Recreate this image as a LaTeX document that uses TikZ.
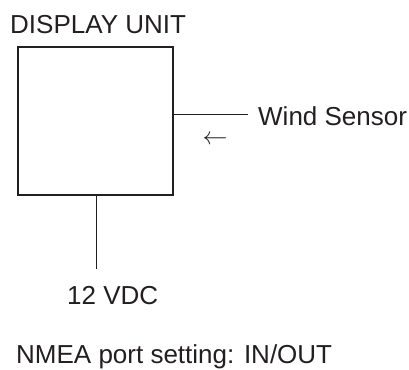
\documentclass[tikz,border=0pt]{standalone}
\usepackage{fontspec}
\setmainfont{Liberation Sans}
\usepackage{tikz}
\usetikzlibrary{positioning}
\definecolor{ink}{HTML}{231F20}

\begin{document}
\begin{tikzpicture}[
    x=1pt, y=1pt,
    lbl/.style={inner sep=0pt, text=ink, font=\fontsize{26}{31}\selectfont},
    unit/.style={draw=ink, line width=1.3pt, minimum width=155pt, minimum height=148pt, inner sep=0pt},
    wire/.style={draw=ink, line width=0.9pt}
  ]
  \useasboundingbox (0,0) rectangle (409,-369);
  \node[lbl, anchor=base west] (title) at (10,-34) {DISPLAY UNIT};
  \node[unit] (disp) at (95.5,-121) {};
  \coordinate (wsend) at (248,-114);
  \coordinate (pwend) at (96,-269);
  \node[lbl, anchor=base west] (wind) at (258,-125) {Wind Sensor};
  \node[lbl, font=\fontsize{27}{31}\selectfont] (dir) at (215,-140) {$\leftarrow$};
  \node[lbl, anchor=base west] (pwr) at (67,-304) {12 VDC};
  \node[lbl, anchor=base west] (nmea) at (16,-363) {NMEA port setting: IN/OUT};

  \draw[wire] (disp.east |- wsend) -- (wsend);
  \draw[wire] (disp.south -| pwend) -- (pwend);
\end{tikzpicture}
\end{document}
